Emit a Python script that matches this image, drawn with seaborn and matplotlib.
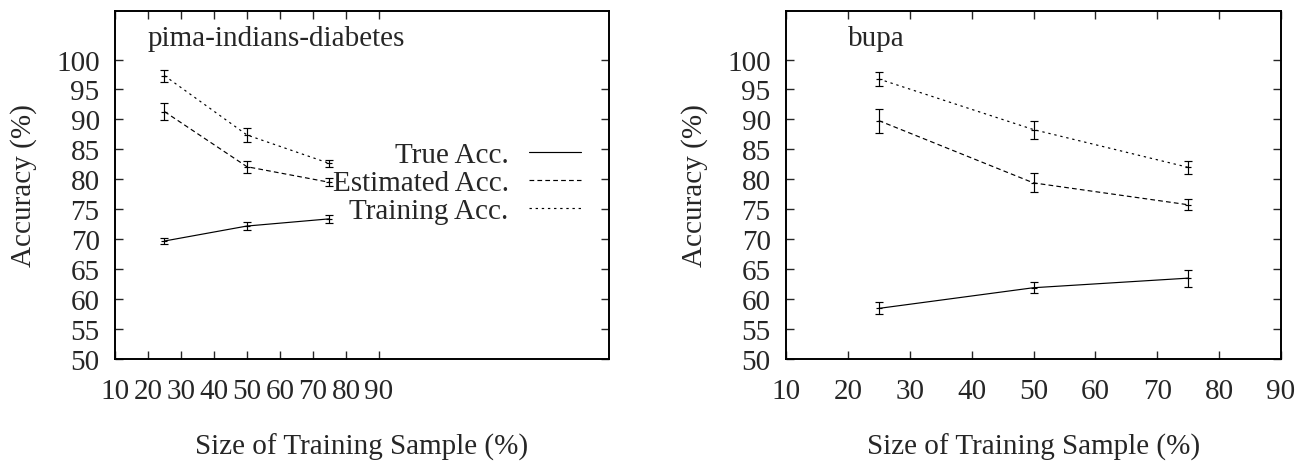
import matplotlib
matplotlib.use("Agg")
import matplotlib.pyplot as plt
import seaborn as sns
import pandas as pd
from matplotlib.lines import Line2D

sns.set_style("ticks")
plt.rcParams["font.family"] = ["Liberation Serif", "DejaVu Serif"]
plt.rcParams["mathtext.fontset"] = "stix"

FS = 21

sizes = [25, 50, 75]
series_names = ["True Acc.", "Estimated Acc.", "Training Acc."]

# pima-indians-diabetes
pima_true = [69.7, 72.2, 73.4]
pima_true_err = [0.5, 0.6, 0.65]
pima_est = [91.3, 82.1, 79.5]
pima_est_err = [1.4, 1.0, 0.65]
pima_train = [97.3, 87.4, 82.65]
pima_train_err = [1.0, 1.2, 0.65]

# bupa
bupa_true = [58.45, 61.9, 63.5]
bupa_true_err = [1.0, 0.95, 1.4]
bupa_est = [89.8, 79.4, 75.75]
bupa_est_err = [2.0, 1.6, 0.9]
bupa_train = [96.75, 88.3, 82.0]
bupa_train_err = [1.1, 1.5, 1.05]

x_ticks = [10, 20, 30, 40, 50, 60, 70, 80, 90]
y_ticks = [50, 55, 60, 65, 70, 75, 80, 85, 90, 95, 100]

LW = 0.85
styles = {
    "True Acc.": "-",
    "Estimated Acc.": (0, (4.0, 2.7)),
    "Training Acc.": (0, (2.0, 3.2)),
}


def build_frame(true, true_err, est, est_err, train, train_err):
    rows = []
    for name, vals, errs in [
        ("True Acc.", true, true_err),
        ("Estimated Acc.", est, est_err),
        ("Training Acc.", train, train_err),
    ]:
        for s, v, e in zip(sizes, vals, errs):
            rows.append({"size": s, "acc": v, "err": e, "series": name})
    return pd.DataFrame(rows)


pima_df = build_frame(pima_true, pima_true_err, pima_est, pima_est_err,
                      pima_train, pima_train_err)
bupa_df = build_frame(bupa_true, bupa_true_err, bupa_est, bupa_est_err,
                      bupa_train, bupa_train_err)

fig = plt.figure(figsize=(12.96, 4.64), dpi=100)
ax1 = fig.add_axes([115 / 1296, 104 / 464, 494 / 1296, 348 / 464])
ax2 = fig.add_axes([786 / 1296, 104 / 464, 495 / 1296, 348 / 464])


def draw_panel(ax, df, xmax, title):
    for name in series_names:
        sub = df[df["series"] == name]
        sns.lineplot(data=sub, x="size", y="acc", ax=ax, color="black",
                     linewidth=LW, linestyle=styles[name], legend=False,
                     errorbar=None)
        ax.errorbar(sub["size"], sub["acc"], yerr=sub["err"], fmt="none",
                    ecolor="black", elinewidth=LW, capsize=2.6,
                    capthick=LW)
        ax.plot(sub["size"], sub["acc"], linestyle="none", marker="_",
                markersize=4, color="black", markeredgewidth=LW)
    ax.set_xlim(10, xmax)
    ax.set_ylim(50, 108.1)
    ax.set_xticks(x_ticks)
    ax.set_yticks(y_ticks)
    ax.tick_params(direction="in", length=6, width=1.0, labelsize=FS,
                   top=True, right=True)
    ax.tick_params(axis="x", pad=14)
    ax.tick_params(axis="y", pad=11)
    for sp in ax.spines.values():
        sp.set_linewidth(1.4)
        sp.set_color("black")
    ax.set_xlabel("Size of Training Sample (%)", fontsize=FS, va="center")
    ax.set_ylabel("Accuracy (%)", fontsize=FS, va="center")
    ax.xaxis.set_label_coords(0.5, -0.25)
    ax.yaxis.set_label_coords(-91 / 494, 0.5)
    ax.text(20, 103.6, title, fontsize=FS, ha="left", va="center")


draw_panel(ax1, pima_df, 159.7, "pima-indians-diabetes")
draw_panel(ax2, bupa_df, 90, "bupa")

handles = [Line2D([], [], color="black", linewidth=LW, linestyle=styles[n])
           for n in series_names]
ax1.legend(handles, series_names, loc="center right",
           bbox_to_anchor=(0.943, (360 - 184) / 348), frameon=False,
           fontsize=FS, markerfirst=False, handlelength=1.78,
           handletextpad=0.7, labelspacing=0.06, borderpad=0,
           borderaxespad=0)

fig.savefig("out.png", dpi=100)
